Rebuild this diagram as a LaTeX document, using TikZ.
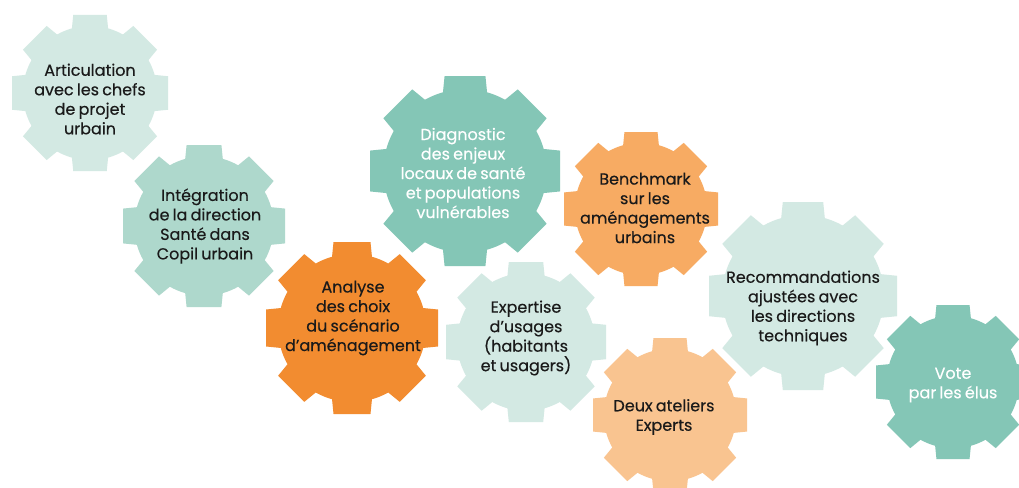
\documentclass[tikz,border=0pt]{standalone}
\usepackage{fontspec}
\setmainfont{Poppins}[FakeBold=0.35,WordSpace=0.75]
\definecolor{mintL}{HTML}{D3E9E3}
\definecolor{mintM}{HTML}{AED8CC}
\definecolor{teal}{HTML}{84C6B6}
\definecolor{orD}{HTML}{F28C30}
\definecolor{orM}{HTML}{F7AB63}
\definecolor{orL}{HTML}{F9C490}
\definecolor{txt}{HTML}{1A1A1A}
\newcommand\gearshape[4]{%
  \begin{scope}[shift={(#1,#2)}]
    \fill[#4] (0,0) circle[radius={0.86*#3}];
    \foreach \a in {0,45,...,315}{
      \fill[#4,rotate=\a] ({0.75*#3},{-0.24*#3}) -- ({#3},{-0.215*#3}) -- ({#3},{0.215*#3}) -- ({0.75*#3},{0.24*#3}) -- cycle;
    }
  \end{scope}}
\tikzset{
  lbl/.style={align=center,font=\fontsize{16}{19.5}\selectfont,text=txt,inner sep=0pt},
  lblw/.style={lbl,text=white}
}
\begin{document}
\begin{tikzpicture}[x=1pt,y=-1pt]
\useasboundingbox (0,0) rectangle (1019,487);
\fill[white] (0,0) rectangle (1019,487);
\gearshape{90}{93}{78}{mintL}
\gearshape{204}{226}{81}{mintM}
\gearshape{352}{328}{86}{orD}
\gearshape{465}{171}{95}{teal}
\gearshape{526}{342}{80}{mintL}
\gearshape{641}{209}{77}{orM}
\gearshape{670}{415}{77}{orL}
\gearshape{803}{296}{94}{mintL}
\gearshape{953}{382}{77}{teal}
\node[lbl] (n1) at (90,99) {Articulation\\avec les chefs\\de projet\\urbain};
\node[lbl] (n2) at (205,226) {Intégration\\de la direction\\Santé dans\\Copil urbain};
\node[lbl] (n3) at (353,318) {Analyse\\des choix\\du scénario\\d’aménagement};
\node[lblw] (n4) at (463,173) {Diagnostic\\des enjeux\\locaux de santé\\et populations\\vulnérables};
\node[lbl] (n5) at (526,338) {Expertise\\d’usages\\(habitants\\et usagers)};
\node[lbl] (n6) at (645,208) {Benchmark\\sur les\\aménagements\\urbains};
\node[lbl] (n7) at (664,417) {Deux ateliers\\Experts};
\node[lbl] (n8) at (803,308) {Recommandations\\ajustées avec\\les directions\\techniques};
\node[lblw] (n9) at (953,385) {Vote\\par les élus};
\end{tikzpicture}
\end{document}
